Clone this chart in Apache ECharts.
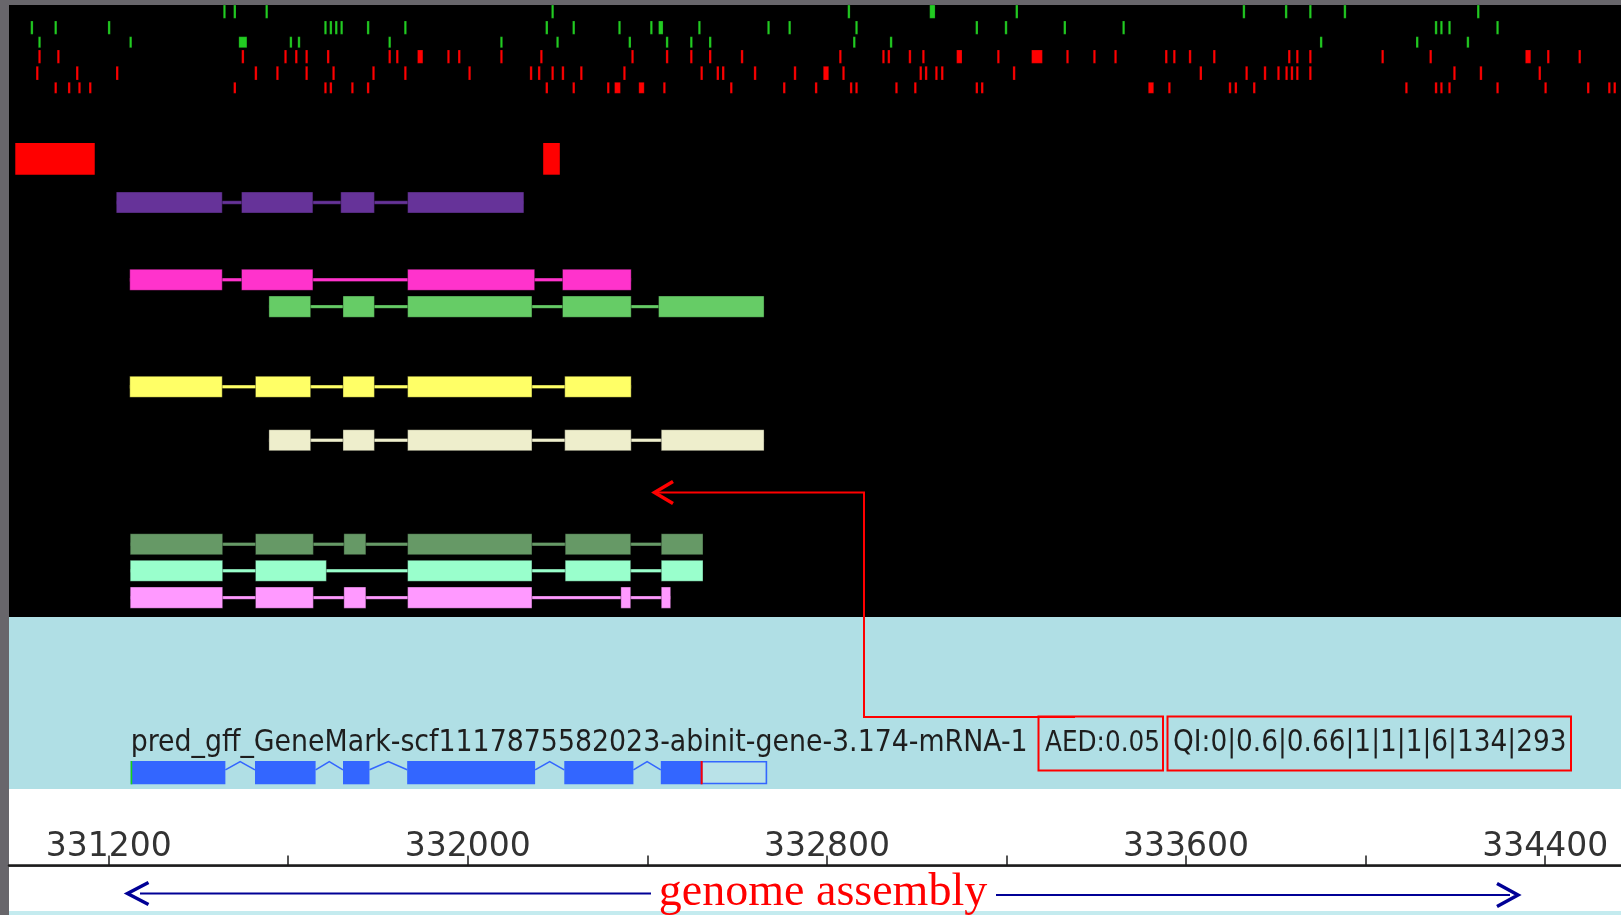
<!DOCTYPE html>
<html>
<head>
<meta charset="utf-8">
<title>Gene model view</title>
<script src="https://cdn.jsdelivr.net/npm/echarts@6/dist/echarts.min.js"></script>
<style>
  html, body { margin: 0; padding: 0; background: #68666b; }
  #chart { width: 1621px; height: 915px; }
</style>
</head>
<body>
<div id="chart"></div>
<script>
// ---------- genomic window and ruler ----------
const viewStart = 330978;
const viewEnd = 334569;
const rulerTicks = [331200, 331600, 332000, 332400, 332800, 333200, 333600, 334000, 334400];
const rulerLabels = [331200, 332000, 332800, 333600, 334400];

// ---------- variant tracks (single sites, or [start, end]) ----------
const variantsGreen1 = [331458, 331481, 331552, 332189, 332849, [333029, 333041], 333223, 333729, 333823, 333877, 333954, 334251];
const variantsGreen2 = [331029, 331082, 331201, 331683, 331695, 331707, 331719, 331778, 331861, 332176, 332236, 332338, 332409, [332425, 332435], 332516, 332670, 332717, 332866, 333134, 333199, 333330, 333461, 334157, 334169, 334187, 334294];
const variantsGreen3 = [331046, 331249, [331490, 331508], 331606, 331624, 331826, 332075, 332200, 332361, 332444, 332498, 332540, 332861, 332943, 333901, 334115, 334228];
const variantsRed1 = [331046, 331088, 331499, 331594, 331618, 331641, 331689, 331826, 331843, [331888, 331900], 331957, 331981, 332075, 332164, 332367, 332444, 332498, 332540, 332611, 332830, 332926, 332938, 332985, 333015, [333089, 333101], 333182, [333256, 333280], 333336, 333396, 333443, 333556, 333574, 333609, 333663, 333830, 333848, 333877, 334038, 334145, [334356, 334368], 334407, 334477];
const variantsRed2 = [331041, 331130, 331219, 331528, 331576, 331641, 331701, 331790, 331861, 332004, 332141, 332159, 332189, 332212, 332253, 332349, 332521, 332557, 332569, 332640, 332729, [332792, 332804], 332837, 333009, 333021, 333044, 333057, 333217, 333633, 333735, 333776, 333806, 333824, 333836, 333848, 333877, 334198, 334257, 334388];
const variantsRed3 = [331082, 331112, 331135, 331159, 331481, 331683, 331695, 331743, 331778, 332176, 332236, 332313, [332327, 332340], [332381, 332393], 332438, 332587, 332705, 332776, 332854, 332866, 332955, 332997, 333134, 333146, [333516, 333528], 333563, 333698, 333711, 333752, 334091, 334157, 334169, 334187, 334294, 334401, 334496, 334543, 334555];

// ---------- evidence alignments (exons as [start, end]) ----------
const repeatBlocks = [[330992, 331169], [332168, 332205]];
const alignPurple = [[331217, 331453], [331496, 331655], [331717, 331792], [331866, 332125]];
const alignMagenta = [[331247, 331453], [331496, 331655], [331866, 332149], [332211, 332364]];
const alignGreen = [[331557, 331650], [331722, 331792], [331866, 332143], [332211, 332364], [332425, 332660]];
const alignYellow = [[331247, 331453], [331527, 331650], [331722, 331792], [331866, 332143], [332216, 332364]];
const alignCream = [[331557, 331650], [331722, 331792], [331866, 332143], [332216, 332364], [332431, 332660]];
const predDarkGreen = [[331248, 331454], [331527, 331656], [331724, 331773], [331866, 332143], [332217, 332363], [332431, 332524]];
const predAqua = [[331248, 331454], [331527, 331685], [331866, 332143], [332217, 332363], [332431, 332524]];
const predPink = [[331248, 331454], [331527, 331656], [331724, 331773], [331866, 332143], [332341, 332363], [332431, 332452]];

// ---------- curated gene model ----------
const geneName = 'pred_gff_GeneMark-scf1117875582023-abinit-gene-3.174-mRNA-1';
const geneAED = 'AED:0.05';
const geneQI = 'QI:0|0.6|0.66|1|1|1|6|134|293';
const geneCDS = [[331249, 331460], [331526, 331661], [331722, 331781], [331865, 332150], [332215, 332369], [332430, 332521]];
const geneUTR3 = [332521, 332667];

// ---------- track layout (lane offsets in panel units) and styles ----------
const variantRows = [
  { sites: variantsGreen1, color: '#22cc22', top: 0, h: 13.3 },
  { sites: variantsGreen2, color: '#22cc22', top: 16, h: 13.3 },
  { sites: variantsGreen3, color: '#22cc22', top: 31.7, h: 11 },
  { sites: variantsRed1, color: '#ff0000', top: 45, h: 13.3 },
  { sites: variantsRed2, color: '#ff0000', top: 61.3, h: 13.7 },
  { sites: variantsRed3, color: '#ff0000', top: 77.3, h: 11 }
];
const evidenceTracks = [
  { exons: repeatBlocks, color: '#ff0000', top: 138, h: 31.7, joined: false, edge: null },
  { exons: alignPurple, color: '#663399', top: 187, h: 21, joined: true },
  { exons: alignMagenta, color: '#ff33cc', top: 264.3, h: 21, joined: true },
  { exons: alignGreen, color: '#66cc66', top: 291, h: 21.3, joined: true },
  { exons: alignYellow, color: '#ffff66', top: 371.3, h: 21, joined: true },
  { exons: alignCream, color: '#eeeecc', top: 424.7, h: 21, joined: true },
  { exons: predDarkGreen, color: '#669966', top: 528.7, h: 21, joined: true },
  { exons: predAqua, color: '#99ffcc', top: 555.3, h: 21, joined: true },
  { exons: predPink, color: '#ff99ff', top: 582, h: 21.3, joined: true }
];
const geneLane = { top: 144, h: 23.3, color: '#3366ff' };
const labelFamily = '"DejaVu Sans Condensed", "DejaVu Sans", sans-serif';
const nameFont = '29.8px ' + labelFamily;

// ---------- series data built from the arrays above ----------
const variantData = [];
variantRows.forEach((row, r) => {
  row.sites.forEach(s => {
    const a = Array.isArray(s) ? s[0] : s;
    const b = Array.isArray(s) ? s[1] : s;
    variantData.push([a, b, r]);
  });
});
const evidenceData = evidenceTracks.map((t, i) => [t.exons[0][0], t.exons[t.exons.length - 1][1], i]);
const geneData = [[geneCDS[0][0], geneUTR3[1]]];

function renderVariant(params, api) {
  const row = variantRows[api.value(2)];
  const p0 = api.coord([api.value(0), row.top]);
  const p1 = api.coord([api.value(1), row.top + row.h]);
  const w = Math.max(p1[0] - p0[0], 2.4);
  const cx = (p0[0] + p1[0]) / 2;
  return {
    type: 'rect',
    shape: { x: cx - w / 2, y: p0[1], width: w, height: p1[1] - p0[1] },
    style: { fill: row.color, stroke: 'rgba(0,0,0,0.35)', lineWidth: 0.6 }
  };
}

function renderEvidence(params, api) {
  const t = evidenceTracks[api.value(2)];
  const children = [];
  const mid = t.top + t.h / 2;
  if (t.joined) {
    const a = api.coord([t.exons[0][0], mid]);
    const b = api.coord([t.exons[t.exons.length - 1][1], mid]);
    children.push({
      type: 'rect',
      shape: { x: a[0], y: a[1] - 1.7, width: b[0] - a[0], height: 3.4 },
      style: { fill: t.color, stroke: 'rgba(0,0,0,0.4)', lineWidth: 0.8 }
    });
  }
  t.exons.forEach(e => {
    const p0 = api.coord([e[0], t.top]);
    const p1 = api.coord([e[1], t.top + t.h]);
    children.push({
      type: 'rect',
      shape: { x: p0[0], y: p0[1], width: p1[0] - p0[0], height: p1[1] - p0[1] },
      style: t.edge === null
        ? { fill: t.color }
        : { fill: t.color, stroke: 'rgba(0,0,0,0.35)', lineWidth: 1 }
    });
  });
  return { type: 'group', children: children };
}

function renderGene(params, api) {
  const top = geneLane.top, h = geneLane.h;
  const children = [];
  // introns drawn as carets between coding exons
  for (let i = 0; i < geneCDS.length - 1; i++) {
    const a = api.coord([geneCDS[i][1], top + h * 0.38]);
    const b = api.coord([geneCDS[i + 1][0], top + h * 0.38]);
    const peak = api.coord([(geneCDS[i][1] + geneCDS[i + 1][0]) / 2, top + 0.6]);
    children.push({
      type: 'polyline',
      shape: { points: [a, peak, b] },
      style: { stroke: geneLane.color, lineWidth: 1.6, fill: null }
    });
  }
  // 3' UTR outline
  const u0 = api.coord([geneUTR3[0], top]);
  const u1 = api.coord([geneUTR3[1], top + h]);
  children.push({
    type: 'rect',
    shape: { x: u0[0], y: u0[1] + 0.8, width: u1[0] - u0[0] - 0.8, height: u1[1] - u0[1] - 1.6 },
    style: { fill: 'rgba(255,255,255,0.12)', stroke: geneLane.color, lineWidth: 1.6 }
  });
  // coding exons
  geneCDS.forEach(e => {
    const p0 = api.coord([e[0], top]);
    const p1 = api.coord([e[1], top + h]);
    children.push({
      type: 'rect',
      shape: { x: p0[0], y: p0[1], width: p1[0] - p0[0], height: p1[1] - p0[1] },
      style: { fill: geneLane.color }
    });
  });
  // start and stop codons
  const s0 = api.coord([geneCDS[0][0], top]);
  const s1 = api.coord([geneCDS[0][0], top + h]);
  children.push({ type: 'line', shape: { x1: s0[0] + 0.8, y1: s0[1], x2: s1[0] + 0.8, y2: s1[1] }, style: { stroke: '#19d219', lineWidth: 1.6 } });
  const lastCds = geneCDS[geneCDS.length - 1][1];
  const e0 = api.coord([lastCds, top]);
  const e1 = api.coord([lastCds, top + h]);
  children.push({ type: 'line', shape: { x1: e0[0], y1: e0[1], x2: e1[0], y2: e1[1] }, style: { stroke: '#ff0000', lineWidth: 2 } });
  // feature name above the model
  const n = api.coord([geneCDS[0][0], top - 17.3]);
  children.push({
    type: 'text',
    style: { text: geneName, x: n[0], y: n[1], font: nameFont, fill: '#1e1e1e', align: 'left', verticalAlign: 'middle' }
  });
  return { type: 'group', children: children };
}

const chart = echarts.init(document.getElementById('chart'), null, { renderer: 'canvas' });

const hiddenX = (gi) => ({ gridIndex: gi, type: 'value', min: viewStart, max: viewEnd, show: false });

chart.setOption({
  animation: false,
  backgroundColor: '#68666b',
  grid: [
    { left: 9, right: 0, top: 5, height: 612, show: true, backgroundColor: '#000000', borderWidth: 0 },
    { left: 9, right: 0, top: 617, height: 172, show: true, backgroundColor: '#b0dfe5', borderWidth: 0 },
    { left: 9, right: 0, top: 789, height: 76.5, show: true, backgroundColor: '#ffffff', borderWidth: 0 }
  ],
  xAxis: [
    hiddenX(0),
    hiddenX(1),
    {
      gridIndex: 2, type: 'value', min: viewStart, max: viewEnd, position: 'bottom',
      axisLine: { show: true, onZero: false, lineStyle: { color: '#1c1c1c', width: 2.5 } },
      axisTick: { show: true, inside: true, length: 10, customValues: rulerTicks, lineStyle: { color: '#1c1c1c', width: 1.5 } },
      axisLabel: {
        show: true, inside: true, margin: 18, verticalAlign: 'middle',
        customValues: rulerLabels, fontSize: 33, fontFamily: 'DejaVu Sans', color: '#333333',
        formatter: v => String(v)
      },
      splitLine: { show: false }
    }
  ],
  yAxis: [
    { gridIndex: 0, type: 'value', min: 0, max: 612, inverse: true, show: false },
    { gridIndex: 1, type: 'value', min: 0, max: 172, inverse: true, show: false },
    { gridIndex: 2, type: 'value', min: 0, max: 1, show: false }
  ],
  series: [
    {
      name: 'variants', type: 'custom', xAxisIndex: 0, yAxisIndex: 0,
      renderItem: renderVariant, encode: { x: [0, 1], y: 2 }, data: variantData, silent: true
    },
    {
      name: 'evidence', type: 'custom', xAxisIndex: 0, yAxisIndex: 0,
      renderItem: renderEvidence, encode: { x: [0, 1], y: 2 }, data: evidenceData, silent: true
    },
    {
      name: 'gene model', type: 'custom', xAxisIndex: 1, yAxisIndex: 1, clip: false,
      renderItem: renderGene, encode: { x: [0, 1] }, data: geneData, silent: true
    }
  ],
  graphic: {
    elements: [
      // white strip under the ruler and the light edge at the bottom
      { type: 'rect', shape: { x: 9, y: 867, width: 1612, height: 44 }, style: { fill: '#ffffff' }, silent: true },
      { type: 'rect', shape: { x: 9, y: 911, width: 1612, height: 4 }, style: { fill: '#c4ebef' }, silent: true },
      // callout linking the empty evidence slot to the gene scores
      { type: 'polyline', z: 100, shape: { points: [[1075, 717], [864, 717], [864, 492.5], [656, 492.5]] }, style: { stroke: '#ff0000', lineWidth: 2, fill: null }, silent: true },
      { type: 'polyline', z: 100, shape: { points: [[673, 481.5], [654.5, 492.5], [673, 503.5]] }, style: { stroke: '#ff0000', lineWidth: 3.5, fill: null }, silent: true },
      { type: 'rect', z: 100, shape: { x: 1038.5, y: 716.5, width: 124.5, height: 54 }, style: { stroke: '#ff0000', lineWidth: 2, fill: null }, silent: true },
      { type: 'rect', z: 100, shape: { x: 1167.5, y: 716.5, width: 403.5, height: 54 }, style: { stroke: '#ff0000', lineWidth: 2, fill: null }, silent: true },
      { type: 'text', z: 101, style: { text: geneAED, x: 1045, y: 743.7, font: '27.5px ' + labelFamily, fill: '#1e1e1e', align: 'left', verticalAlign: 'middle' }, silent: true },
      { type: 'text', z: 101, style: { text: geneQI, x: 1173, y: 743.7, font: '29.3px ' + labelFamily, fill: '#1e1e1e', align: 'left', verticalAlign: 'middle' }, silent: true },
      // genome assembly span arrows
      { type: 'line', z: 100, shape: { x1: 140, y1: 893.5, x2: 651, y2: 893.5 }, style: { stroke: '#000096', lineWidth: 2 }, silent: true },
      { type: 'polyline', z: 100, shape: { points: [[148.5, 882.5], [127.5, 893.5], [148.5, 904.5]] }, style: { stroke: '#000096', lineWidth: 3.5, fill: null }, silent: true },
      { type: 'line', z: 100, shape: { x1: 996, y1: 895, x2: 1510, y2: 895 }, style: { stroke: '#000096', lineWidth: 2 }, silent: true },
      { type: 'polyline', z: 100, shape: { points: [[1497, 883.5], [1518, 895], [1497, 906.5]] }, style: { stroke: '#000096', lineWidth: 3.5, fill: null }, silent: true },
      { type: 'text', z: 101, style: { text: 'genome assembly', x: 823, y: 893, font: '46px "Liberation Serif", serif', fill: '#ff0000', align: 'center', verticalAlign: 'middle' }, silent: true }
    ]
  }
});
</script>
</body>
</html>
